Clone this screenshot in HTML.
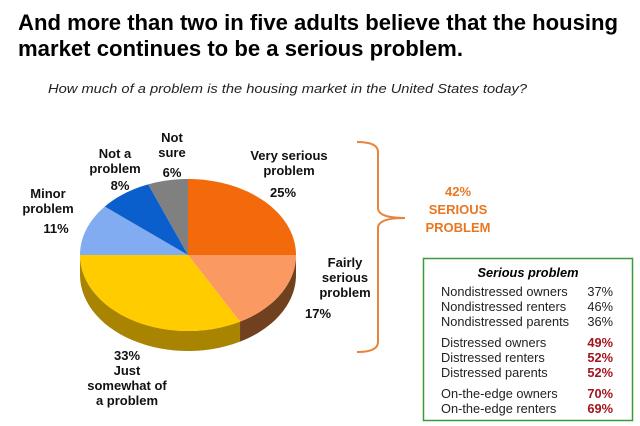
<!DOCTYPE html>
<html><head><meta charset="utf-8"><style>
html,body{margin:0;padding:0;background:#fff;}
svg{display:block;font-family:"Liberation Sans",Arial,sans-serif;}
</style></head><body>
<svg id="chart" width="640" height="426" viewBox="0 0 640 426">
<text x="18" y="30" font-size="22" font-weight="bold" textLength="600" lengthAdjust="spacingAndGlyphs">And more than two in five adults believe that the housing</text>
<text x="18" y="56" font-size="22" font-weight="bold" textLength="445" lengthAdjust="spacingAndGlyphs">market continues to be a serious problem.</text>
<text x="48" y="93" font-size="13" font-style="italic" fill="#222" textLength="479" lengthAdjust="spacingAndGlyphs">How much of a problem is the housing market in the United States today?</text>
<g id="pie"></g>
<g font-size="13" font-weight="bold" text-anchor="middle" fill="#111">
<text><tspan x="172" y="142">Not</tspan><tspan x="172" y="157">sure</tspan><tspan x="172" y="177">6%</tspan></text>
<text><tspan x="115" y="158">Not a</tspan><tspan x="115" y="173">problem</tspan><tspan x="120" y="190">8%</tspan></text>
<text><tspan x="48" y="198">Minor</tspan><tspan x="48" y="213">problem</tspan><tspan x="56" y="233">11%</tspan></text>
<text><tspan x="289" y="160">Very serious</tspan><tspan x="289" y="175">problem</tspan><tspan x="283" y="197">25%</tspan></text>
<text><tspan x="345" y="267">Fairly</tspan><tspan x="345" y="282">serious</tspan><tspan x="345" y="297">problem</tspan><tspan x="318" y="318">17%</tspan></text>
<text><tspan x="127" y="360">33%</tspan><tspan x="127" y="375">Just</tspan><tspan x="127" y="390">somewhat of</tspan><tspan x="127" y="405">a problem</tspan></text>
</g>
<path d="M357 142 Q378 142 378 152 L378 208 Q378 218 405 218 Q378 218 378 228 L378 342 Q378 352 357 352" fill="none" stroke="#E8833A" stroke-width="2"/>
<g font-size="13" font-weight="bold" fill="#E87722" text-anchor="middle">
<text x="458" y="196">42%</text><text x="458" y="214">SERIOUS</text><text x="458" y="232">PROBLEM</text>
</g>
<rect x="423.5" y="258.5" width="209" height="162" fill="#fff" stroke="#3A9A3A" stroke-width="1.5"/>
<text x="528" y="277" font-size="12.8" font-weight="bold" font-style="italic" text-anchor="middle">Serious problem</text>
<g id="rows" font-size="12.8" fill="#222"></g>
</svg>
<script>
// pie data
const sliceNames = ["Very serious problem","Fairly serious problem","Just somewhat of a problem","Minor problem","Not a problem","Not sure"];
const sliceValues = [25,17,33,11,8,6];
const sliceColors = ["#F26A0C","#FA9A62","#FFCC00","#82ACF2","#0A5FCC","#808080"];
const sideColors = ["#B04A08","#70401F","#A88400","#5A7AB0","#08408A","#555555"];
// table data
const groupNames = ["Nondistressed owners","Nondistressed renters","Nondistressed parents","Distressed owners","Distressed renters","Distressed parents","On-the-edge owners","On-the-edge renters"];
const groupValues = [37,46,36,49,52,52,70,69];

const NS="http://www.w3.org/2000/svg";
const cx=188, cy=255, rx=108, ry=76, depth=20;
const pie=document.getElementById('pie');
const total=sliceValues.reduce((a,b)=>a+b,0);
function pt(t,dy){return [cx+rx*Math.sin(t), cy-ry*Math.cos(t)+(dy||0)];}
let acc=0;
const angles=sliceValues.map(v=>{const a0=acc/total*2*Math.PI; acc+=v; return [a0, acc/total*2*Math.PI];});
angles.forEach((a,i)=>{
  const s=Math.max(a[0],Math.PI/2), e=Math.min(a[1],3*Math.PI/2);
  if(e<=s) return;
  let n=30, top=[], bot=[];
  for(let k=0;k<=n;k++){const t=s+(e-s)*k/n; top.push(pt(t,0)); bot.push(pt(t,depth));}
  const d="M"+top.map(p=>p.join(",")).join(" L")+" L"+bot.reverse().map(p=>p.join(",")).join(" L")+" Z";
  const p=document.createElementNS(NS,'path');
  p.setAttribute('d',d); p.setAttribute('fill',sideColors[i]);
  
  
  pie.appendChild(p);
});
angles.forEach((a,i)=>{
  const n=40; let pts=[[cx,cy]];
  for(let k=0;k<=n;k++){pts.push(pt(a[0]+(a[1]-a[0])*k/n,0));}
  const p=document.createElementNS(NS,'path');
  p.setAttribute('d',"M"+pts.map(q=>q.join(",")).join(" L")+" Z");
  p.setAttribute('fill',sliceColors[i]);
  
  
  pie.appendChild(p);
});
const rows=document.getElementById('rows');
const rowY=[296,311,326,347,362,377,398,413];
groupNames.forEach((g,i)=>{
  const t=document.createElementNS(NS,'text');
  t.setAttribute('x',441); t.setAttribute('y',rowY[i]); t.textContent=g;
  
  
  rows.appendChild(t);
  const v=document.createElementNS(NS,'text');
  v.setAttribute('x',613); v.setAttribute('y',rowY[i]); v.setAttribute('text-anchor','end');
  v.textContent=groupValues[i]+"%";
  if(i>=3){v.setAttribute('fill','#A3141C'); v.setAttribute('font-weight','bold');}
  
  
  rows.appendChild(v);
});
</script>
</body></html>
